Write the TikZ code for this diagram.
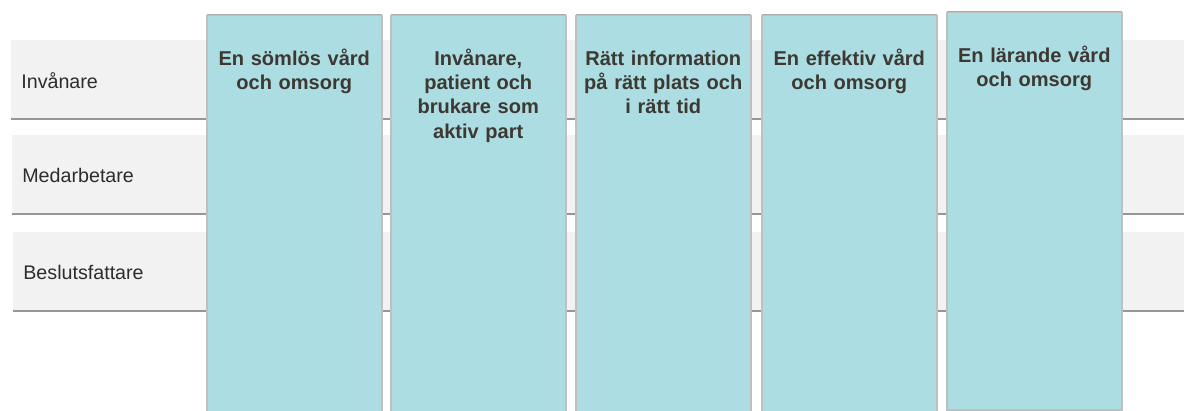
\documentclass[tikz,border=0pt]{standalone}
\usepackage{fontspec}
\setmainfont{Liberation Sans}
\usetikzlibrary{positioning,shadows}
\definecolor{pillar}{RGB}{171,221,226}
\definecolor{rowgray}{RGB}{242,242,242}
\definecolor{titletext}{RGB}{61,56,50}
\definecolor{labeltext}{RGB}{45,45,45}
\tikzset{
	rowbar/.style={rectangle,anchor=north west,inner sep=0,fill=rowgray,minimum width=236mm,minimum height=15.5mm,
		drop shadow={shadow xshift=0mm,shadow yshift=-0.4mm,opacity=.75,fill=black!55}},
	rowlabel/.style={inner sep=0,anchor=west,text=labeltext,font=\fontsize{11.2pt}{13.8pt}\selectfont},
	pillarbox/.style={rectangle,anchor=north west,inner sep=0,fill=pillar,draw=black!25,line width=0.3mm,
		minimum width=35mm,minimum height=80mm,
		drop shadow={shadow xshift=0mm,shadow yshift=0.4mm,opacity=.65,fill=black!50}},
	pillartitle/.style={inner sep=0,text width=34mm,align=center,text=titletext,
		font=\bfseries\fontsize{11.4pt}{13.8pt}\selectfont}
}

\begin{document}
\begin{tikzpicture}[x=0.2mm,y=-0.2mm]
	\useasboundingbox (0,0) rectangle (1184,411);
	\fill[white] (0,0) rectangle (1184,411);
	
	%%%% rows
	\node[rowbar] (r1) at (11,40) {};
	\node[rowbar] (r2) at (12,135) {};
	\node[rowbar] (r3) at (13,232) {};
	\node[rowlabel,right=2mm of r1.west,yshift=-0.3mm] (l1) {Invånare};
	\node[rowlabel,right=2mm of r2.west,yshift=-0.2mm] (l2) {Medarbetare};
	\node[rowlabel,right=2mm of r3.west,yshift=-0.2mm] (l3) {Beslutsfattare};
	
	%%%% pillars
	\node[pillarbox] (c1) at (206,15) {};
	\node[pillarbox] (c2) at (390,15) {};
	\node[pillarbox] (c3) at (575,15) {};
	\node[pillarbox] (c4) at (761,15) {};
	\node[pillarbox,minimum height=79.4mm] (c5) at (946,12) {};
	
	\node[pillartitle,below=5.8mm of c1.north] (t1) {\rule{0pt}{12pt}En sömlös vård\\och omsorg};
	\node[pillartitle,below=5.8mm of c2.north] (t2) {\rule{0pt}{12pt}Invånare,\\patient och\\brukare som\\aktiv part};
	\node[pillartitle,below=5.8mm of c3.north] (t3) {\rule{0pt}{12pt}Rätt information\\på rätt plats och\\i rätt tid};
	\node[pillartitle,below=5.8mm of c4.north] (t4) {\rule{0pt}{12pt}En effektiv vård\\och omsorg};
	\node[pillartitle,below=5.8mm of c5.north] (t5) {\rule{0pt}{12pt}En lärande vård\\och omsorg};
	
\end{tikzpicture}
\end{document}
